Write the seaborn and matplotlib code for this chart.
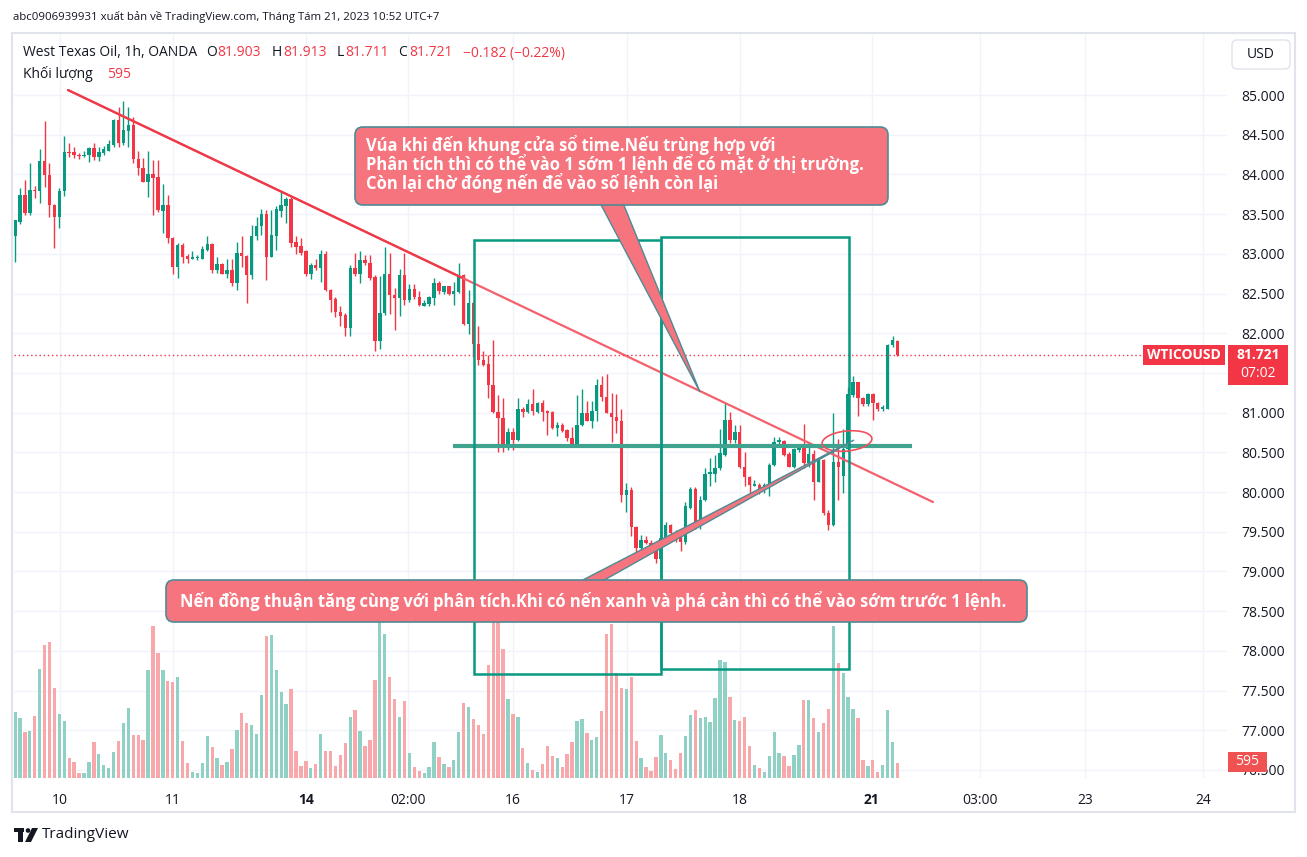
import numpy as np
import pandas as pd
import matplotlib
matplotlib.use("Agg")
import matplotlib.pyplot as plt
import matplotlib.transforms as mtransforms
from matplotlib.patches import Rectangle, FancyBboxPatch, Polygon, Ellipse, Circle
import seaborn as sns

# hourly WTI candles, Aug 9 - Aug 21 2023
opens = [83.23, 83.40, 83.74, 83.52, 83.80, 83.79, 84.17, 83.99, 83.61, 83.46,
         83.79, 84.28, 84.28, 84.25, 84.23, 84.24, 84.33, 84.22, 84.27, 84.30,
         84.37, 84.68, 84.40, 84.55, 84.62, 84.20, 84.08, 83.90, 84.01, 83.97,
         83.54, 83.61, 83.20, 82.84, 83.11, 82.97, 82.94, 82.95, 82.94, 83.05,
         83.12, 82.80, 82.87, 82.75, 82.80, 82.63, 83.01, 82.97, 82.73, 83.22,
         83.35, 83.50, 82.96, 83.23, 83.54, 83.60, 83.69, 83.15, 83.10, 83.03,
         82.74, 82.86, 82.82, 83.00, 82.55, 82.43, 82.27, 82.23, 82.07, 82.82,
         82.75, 82.92, 82.89, 82.71, 81.90, 82.25, 82.75, 82.48, 82.44, 82.73,
         82.42, 82.56, 82.46, 82.34, 82.37, 82.44, 82.63, 82.52, 82.59, 82.50,
         82.52, 82.73, 82.12, 82.38, 81.87, 81.66, 81.61, 81.35, 81.01, 80.93,
         80.56, 80.76, 80.65, 81.05, 81.01, 81.11, 81.01, 81.12, 81.02, 81.01,
         80.80, 80.84, 80.78, 80.68, 80.59, 80.84, 80.99, 80.90, 81.02, 81.35,
         81.20, 81.00, 80.94, 80.89, 79.96, 80.03, 79.56, 79.29, 79.40, 79.36,
         79.28, 79.15, 79.42, 79.58, 79.50, 79.43, 79.37, 79.80, 80.04, 79.61,
         79.90, 80.23, 80.23, 80.30, 80.47, 80.91, 80.65, 80.75, 80.31, 80.19,
         80.08, 80.09, 80.02, 80.07, 80.34, 80.63, 80.64, 80.48, 80.32, 80.53,
         80.57, 80.37, 80.48, 80.13, 80.40, 79.74, 79.58, 80.38, 80.20, 80.54,
         81.22, 81.38, 81.18, 81.11, 81.24, 81.12, 81.04, 81.05, 81.85, 81.903]
highs = [83.43, 83.83, 83.93, 84.14, 83.85, 84.32, 84.67, 84.15, 83.63, 83.83,
         84.48, 84.40, 84.35, 84.27, 84.30, 84.35, 84.40, 84.35, 84.36, 84.43,
         84.70, 84.85, 84.92, 84.85, 84.72, 84.29, 84.21, 84.29, 84.18, 84.18,
         83.88, 83.74, 83.21, 83.13, 83.13, 83.00, 83.03, 82.98, 83.10, 83.23,
         83.13, 82.96, 82.89, 82.94, 82.93, 83.15, 83.22, 82.98, 83.36, 83.47,
         83.57, 83.55, 83.55, 83.60, 83.78, 83.72, 83.72, 83.22, 83.20, 83.05,
         82.89, 82.94, 83.05, 83.04, 82.56, 82.46, 82.34, 82.26, 82.86, 83.01,
         83.03, 82.98, 82.98, 82.73, 82.72, 83.09, 83.01, 82.57, 82.81, 83.01,
         82.62, 82.62, 82.53, 82.42, 82.47, 82.69, 82.66, 82.60, 82.60, 82.65,
         82.88, 82.74, 82.54, 82.39, 82.09, 81.77, 81.72, 81.92, 81.22, 81.18,
         80.80, 80.80, 81.18, 81.07, 81.17, 81.30, 81.13, 81.16, 81.03, 81.02,
         80.88, 80.87, 80.79, 80.82, 81.22, 81.30, 81.14, 81.14, 81.42, 81.46,
         81.49, 81.25, 81.24, 81.04, 80.11, 80.06, 79.57, 79.46, 79.44, 79.40,
         79.30, 79.45, 79.62, 79.60, 79.52, 79.45, 79.87, 80.06, 80.06, 79.95,
         80.30, 80.43, 80.46, 80.79, 81.12, 81.01, 80.85, 80.85, 80.51, 80.20,
         80.15, 80.11, 80.11, 80.36, 80.69, 80.69, 80.66, 80.50, 80.56, 80.59,
         80.86, 80.59, 80.53, 80.42, 80.42, 79.77, 81.00, 80.67, 80.79, 81.32,
         81.46, 81.39, 81.20, 81.25, 81.25, 81.13, 81.10, 81.87, 81.97, 81.913]
lows = [82.90, 83.38, 83.49, 83.49, 83.70, 83.64, 83.84, 83.47, 83.07, 83.33,
        83.73, 84.22, 84.21, 84.20, 84.22, 84.16, 84.18, 84.17, 84.25, 84.30,
        84.35, 84.34, 84.37, 84.35, 84.14, 83.99, 83.90, 83.71, 83.49, 83.53,
        83.26, 83.14, 82.75, 82.69, 82.88, 82.89, 82.93, 82.92, 82.94, 83.04,
        82.76, 82.76, 82.74, 82.70, 82.60, 82.55, 82.84, 82.38, 82.68, 83.18,
        83.24, 82.67, 82.96, 83.05, 83.47, 83.39, 83.08, 83.00, 82.98, 82.72,
        82.68, 82.80, 82.64, 82.53, 82.27, 82.20, 82.09, 81.97, 81.96, 82.72,
        82.63, 82.86, 82.67, 81.77, 81.80, 82.23, 82.24, 82.04, 82.22, 82.35,
        82.39, 82.43, 82.34, 82.34, 82.34, 82.36, 82.50, 82.50, 82.48, 82.36,
        82.51, 82.10, 81.99, 81.70, 81.60, 81.59, 81.18, 80.99, 80.51, 80.51,
        80.53, 80.53, 80.64, 80.95, 81.00, 80.97, 81.00, 80.90, 80.72, 80.79,
        80.71, 80.76, 80.64, 80.58, 80.58, 80.83, 80.89, 80.80, 80.90, 81.14,
        80.99, 80.63, 80.74, 79.88, 79.75, 79.44, 79.22, 79.26, 79.34, 79.26,
        79.11, 79.10, 79.40, 79.45, 79.37, 79.26, 79.34, 79.78, 79.54, 79.54,
        79.89, 80.07, 80.13, 80.28, 80.45, 80.62, 80.62, 80.30, 80.07, 79.97,
        80.07, 79.97, 79.99, 79.95, 80.33, 80.60, 80.45, 80.31, 80.30, 80.51,
        80.30, 80.32, 79.90, 80.12, 79.71, 79.52, 79.57, 79.90, 79.99, 80.50,
        81.20, 80.96, 81.08, 81.08, 80.91, 81.02, 81.02, 81.04, 81.83, 81.711]
closes = [83.42, 83.74, 83.52, 83.80, 83.79, 84.17, 83.99, 83.61, 83.46, 83.79,
          84.28, 84.27, 84.24, 84.23, 84.25, 84.33, 84.22, 84.28, 84.32, 84.38,
          84.68, 84.40, 84.56, 84.62, 84.19, 84.08, 83.90, 84.01, 83.96, 83.55,
          83.61, 83.20, 82.84, 83.11, 82.96, 82.94, 82.96, 82.96, 83.06, 83.12,
          82.80, 82.87, 82.75, 82.80, 82.63, 83.01, 82.97, 82.73, 83.22, 83.35,
          83.50, 82.96, 83.24, 83.56, 83.61, 83.69, 83.14, 83.09, 83.01, 82.75,
          82.86, 82.82, 83.00, 82.54, 82.42, 82.27, 82.22, 82.07, 82.82, 82.75,
          82.92, 82.88, 82.70, 81.90, 82.25, 82.75, 82.48, 82.44, 82.73, 82.42,
          82.56, 82.46, 82.35, 82.38, 82.46, 82.63, 82.53, 82.59, 82.50, 82.53,
          82.73, 82.12, 82.38, 81.87, 81.66, 81.60, 81.35, 81.01, 80.93, 80.56,
          80.76, 80.65, 81.05, 81.01, 81.11, 81.02, 81.12, 81.01, 81.00, 80.80,
          80.84, 80.77, 80.68, 80.59, 80.84, 80.99, 80.90, 81.02, 81.35, 81.20,
          81.00, 80.94, 80.89, 79.96, 80.03, 79.56, 79.29, 79.40, 79.36, 79.28,
          79.15, 79.42, 79.58, 79.49, 79.40, 79.37, 79.82, 80.04, 79.61, 79.90,
          80.23, 80.25, 80.30, 80.49, 80.91, 80.65, 80.75, 80.31, 80.19, 80.09,
          80.10, 80.02, 80.09, 80.34, 80.63, 80.65, 80.47, 80.32, 80.54, 80.55,
          80.36, 80.48, 80.13, 80.40, 79.74, 79.58, 80.38, 80.32, 80.54, 81.24,
          81.38, 81.18, 81.11, 81.24, 81.12, 81.04, 81.07, 81.85, 81.91, 81.721]
volumes = [2548, 2317, 1776, 1802, 2394, 4196, 5122, 5238, 3462, 2458,
           2188, 759, 605, 193, 193, 605, 1377, 914, 502, 386,
           991, 1416, 2111, 2690, 1647, 1647, 1454, 4157, 5856, 4826,
           4157, 3732, 3694, 3887, 1416, 566, 219, 193, 566, 1609,
           1197, 759, 502, 605, 1107, 1853, 2497, 2111, 2033, 1686,
           3192, 5483, 5521, 4157, 3308, 2844, 3423, 1030, 450, 644,
           386, 528, 1686, 1030, 1030, 463, 875, 1338, 2342, 2613,
           1802, 1236, 1454, 3771, 6165, 5547, 3887, 3037, 2342, 2960,
           952, 425, 257, 193, 425, 1377, 798, 528, 425, 682,
           1763, 2883, 2728, 2265, 2033, 1686, 4350, 6670, 6281, 4968,
           3037, 2458, 2342, 1158, 566, 296, 219, 528, 1223, 849,
           759, 425, 914, 1377, 2188, 2265, 1725, 1454, 1570, 2574,
           5547, 5933, 4041, 3462, 3423, 3887, 1416, 759, 412, 257,
           798, 1647, 952, 682, 335, 952, 1609, 2420, 2613, 2304,
           2342, 2149, 3076, 4543, 4466, 3115, 2227, 2188, 2342, 1223,
           489, 373, 219, 837, 1763, 952, 837, 450, 875, 1261,
           2999, 2999, 2304, 1763, 2111, 2651, 5856, 4427, 4041, 3115,
           2651, 2304, 682, 450, 682, 219, 489, 2613, 1377, 595]

time_ticks = [9.1, 32, 59, 79.7, 101, 124.1, 147, 173.8, 195.7, 217, 241]
time_labels = ["10", "11", "14", "02:00", "16", "17", "18", "21", "03:00", "23", "24"]
price_ticks = [76.5, 77.0, 77.5, 78.0, 78.5, 79.0, 79.5, 80.0, 80.5,
               81.0, 81.5, 82.0, 82.5, 83.0, 83.5, 84.0, 84.5, 85.0]
last_price = 81.721
last_volume = 595

# drawings (bar index, price)
trend_down = ([10.75, 186.2], [85.063, 79.874])
trend_down_dark = ([10.75, 90.6], [85.063, 82.70])
support_line = ([88.8, 182.0], 80.579)
box1 = (93.1, 131.0, 77.708, 83.174)
box2 = (131.0, 169.2, 77.771, 83.212)

note_top = ["Vúa khi đến khung cửa sổ time.Nếu trùng hợp với",
            "Phân tích thì có thể vào 1 sớm 1 lệnh để có mặt ở thị trường.",
            "Còn lại chờ đóng nến để vào số lệnh còn lại"]
note_bottom = "Nến đồng thuận tăng cùng với phân tích.Khi có nến xanh và phá cản thì có thể vào sớm trước 1 lệnh."

GREEN = "#089981"
RED = "#f23645"
TXT = "#131722"
NOTE_FC = "#f6747e"
NOTE_EC = "#4f8a94"

sns.set_theme(style="white")
plt.rcParams["font.family"] = ["Open Sans", "Noto Sans", "DejaVu Sans"]

W, H = 1307, 857
fig = plt.figure(figsize=(W / 100, H / 100), dpi=100)
fig.patch.set_facecolor("white")
pix = mtransforms.Affine2D().scale(1 / W, -1 / H).translate(0, 1) + fig.transFigure

df = pd.DataFrame({"i": np.arange(len(closes)), "o": opens, "h": highs,
                   "l": lows, "c": closes, "v": volumes})
df["dir"] = np.where(df.c >= df.o, "up", "down")
df["col"] = np.where(df.c >= df.o, GREEN, RED)

ax = fig.add_axes([14 / W, 1 - 778 / H, (1227 - 14) / W, (778 - 35) / H])
axv = ax.twinx()
ax.set_zorder(2)
axv.set_zorder(1)
ax.patch.set_visible(False)

# volume pane (behind the price)
sns.barplot(x=df.i, y=df.v, hue=df.dir, palette={"up": "#90d1c6", "down": "#f8a7ab"},
            native_scale=True, width=0.68, dodge=False, errorbar=None, legend=False,
            saturation=1, linewidth=0, ax=axv)
axv.set_ylim(0, 28680)
axv.set_yticks([])
axv.set_ylabel("")
axv.set_xlabel("")

grid_tf = mtransforms.blended_transform_factory(axv.transAxes, ax.transData)
for p in price_ticks:
    axv.plot([0, 1], [p, p], transform=grid_tf, color="#f0f3fa", lw=1, zorder=0)
for t in time_ticks:
    axv.axvline(t, color="#f0f3fa", lw=1, zorder=0)

# candles
ax.vlines(df.i, df.l, df.h, colors=df.col, lw=1, zorder=3)
body = (df.c - df.o).abs().clip(lower=0.013)
ax.bar(df.i, body, bottom=np.minimum(df.o, df.c), width=0.7, color=df.col, lw=0, zorder=4)

ax.set_xlim(-0.2, 245.84)
ax.set_ylim(76.398, 85.756)
for a in (ax, axv):
    for s in a.spines.values():
        s.set_visible(False)

ax.yaxis.tick_right()
ax.set_yticks(price_ticks, [f"{p:.3f}" if p != 81.5 else "" for p in price_ticks])
ax.tick_params(axis="y", length=0, pad=10, labelsize=10, labelcolor=TXT)
ax.set_xticks(time_ticks, time_labels)
ax.tick_params(axis="x", length=0, pad=11, labelsize=10, labelcolor=TXT)
for lab in ax.get_xticklabels():
    if lab.get_text() in ("14", "21"):
        lab.set_fontweight("bold")

# trend lines, level, windows
ax.plot(*trend_down, color="#f4606b", lw=1.6, zorder=5)
ax.plot(*trend_down_dark, color="#ee3a48", lw=1.6, zorder=5)
ax.plot(support_line[0], [support_line[1]] * 2, color="#40a390", lw=3, zorder=5,
        solid_capstyle="butt")
for x0, x1, y0, y1 in (box1, box2):
    ax.add_patch(Rectangle((x0, y0), x1 - x0, y1 - y0, fill=False, ec=GREEN, lw=1.8, zorder=6))

ax.hlines(last_price, -0.2, 228.8, colors=RED, lw=1, linestyles=(0, (1, 2)), zorder=5)
ax.add_patch(Ellipse((847, 441), 50, 20, angle=-6, transform=pix, fill=False,
                     ec="#f0505c", lw=1.2, zorder=7, clip_on=False))

# callouts
ax.add_patch(Polygon([(600, 203), (623, 203), (700, 392)], closed=True, transform=pix,
                     fc=NOTE_FC, ec=NOTE_EC, lw=1, zorder=8, clip_on=False))
ax.add_patch(Polygon([(577, 583), (599, 583), (854, 440)], closed=True, transform=pix,
                     fc=NOTE_FC, ec=NOTE_EC, lw=1, zorder=8, clip_on=False))
for (x0, y0, x1, y1) in ((355, 127, 888, 205), (166, 580, 1027, 622)):
    ax.add_patch(FancyBboxPatch((x0, y0), x1 - x0, y1 - y0, boxstyle="round,pad=0,rounding_size=8",
                                transform=pix, fc=NOTE_FC, ec=NOTE_EC, lw=1.2, zorder=9,
                                clip_on=False))
for k, line in enumerate(note_top):
    ax.text(366, 145 + k * 19, line, transform=pix, color="white", fontsize=11.9,
            fontweight="bold", va="center", ha="left", zorder=10)
ax.text(180, 601, note_bottom, transform=pix, color="white", fontsize=11.9,
        fontweight="bold", va="center", ha="left", zorder=10)

# price-scale labels (above the tick labels)
ax.add_patch(Rectangle((1143, 345), 82, 20, transform=pix, fc=RED, ec="none",
                       zorder=11, clip_on=False))
ax.text(1184, 355, "WTICOUSD", transform=pix, color="white", fontsize=10,
        fontweight="bold", ha="center", va="center", zorder=12)
ax.add_patch(Rectangle((1228, 345), 60, 40, transform=pix, fc=RED, ec="none",
                       zorder=11, clip_on=False))
ax.text(1258, 355, f"{last_price:.3f}", transform=pix, color="white", fontsize=10,
        fontweight="bold", ha="center", va="center", zorder=12)
ax.text(1258, 374, "07:02", transform=pix, color="white", fontsize=10,
        ha="center", va="center", zorder=12)
ax.add_patch(Rectangle((1228, 752), 39, 20, transform=pix, fc="#f05252", ec="none",
                       zorder=11, clip_on=False))
ax.text(1247, 762, str(last_volume), transform=pix, color="white", fontsize=10,
        ha="center", va="center", zorder=12)
fig.patches.append(FancyBboxPatch((1232, 40), 58, 29, boxstyle="round,pad=0,rounding_size=5",
                                  transform=pix, fc="white", ec="#e0e3eb", lw=1))
fig.text(1261, 54.5, "USD", transform=pix, color=TXT, fontsize=10, ha="center", va="center")

# frame
fig.patches.append(Rectangle((12, 33), 1283, 779, transform=pix, fill=False,
                             ec="#e0e3eb", lw=1.5))

# header & legend
fig.text(13, 17, "abc0906939931 xuất bản về TradingView.com, Tháng Tám 21, 2023 10:52 UTC+7",
         transform=pix, color=TXT, fontsize=8.2, va="center")
fig.text(23, 53, "West Texas Oil, 1h, OANDA", transform=pix, color=TXT, fontsize=10, va="center")
for x, s, c in ((206, "O", TXT), (217, "81.903", RED), (272, "H", TXT), (283, "81.913", RED),
                (337, "L", TXT), (345, "81.711", RED), (398, "C", TXT), (409, "81.721", RED),
                (463, "−0.182 (−0.22%)", RED)):
    fig.text(x, 53, s, transform=pix, color=c, fontsize=10, va="center")
fig.text(23, 74, "Khối lượng", transform=pix, color=TXT, fontsize=10, va="center")
fig.text(107, 74, str(last_volume), transform=pix, color=RED, fontsize=10, va="center")

# footer logo
fig.patches.append(Rectangle((14, 828), 10, 4, transform=pix, fc=TXT, ec="none"))
fig.patches.append(Rectangle((18, 828), 5, 14, transform=pix, fc=TXT, ec="none"))
fig.patches.append(Circle((28, 830.5), 2.3, transform=pix, fc=TXT, ec="none"))
fig.patches.append(Polygon([(32, 828), (38, 828), (31, 842), (25, 842)], transform=pix,
                           fc=TXT, ec="none"))
fig.text(42, 835, "TradingView", transform=pix, color=TXT, fontsize=11, va="center")

fig.savefig("out.png", dpi=100, facecolor="white")
